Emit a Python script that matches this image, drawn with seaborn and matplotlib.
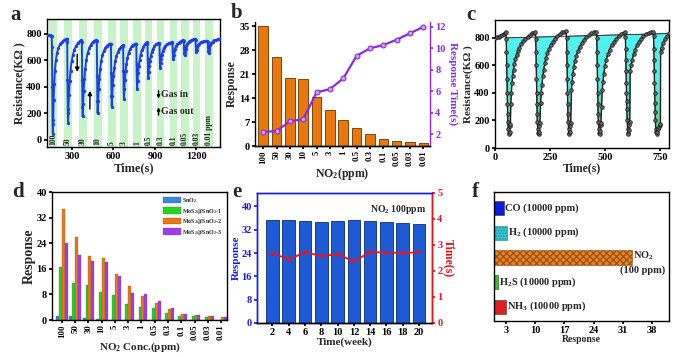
import numpy as np
import pandas as pd
import matplotlib
matplotlib.use("Agg")
import matplotlib.pyplot as plt
import seaborn as sns
from matplotlib.path import Path
from matplotlib.patches import PathPatch
from matplotlib.colors import LinearSegmentedColormap

# ---------------- data ----------------
# (a) dynamic response, resistance vs time
a_time = [122, 130, 140, 148, 154,
          156, 158, 160, 162, 165, 168, 172, 177, 184, 192, 202, 214, 228, 242, 256, 264,
          266, 268, 270, 272, 275, 279, 284, 290, 298, 307, 318, 330, 343, 356, 368,
          372, 374, 376, 378, 381, 385, 390, 396, 404, 413, 424, 436, 449, 463, 476,
          480, 482, 484, 486, 489, 493, 498, 504, 511, 520, 530, 541, 553, 566, 578,
          582, 584, 586, 588, 591, 595, 600, 606, 613, 622, 632, 643, 655, 666,
          670, 672, 674, 676, 679, 683, 688, 694, 701, 710, 720, 731, 743, 755, 763,
          765, 767, 769, 771, 774, 778, 783, 789, 796, 805, 815, 826, 836, 844,
          846, 848, 850, 852, 855, 859, 864, 870, 877, 886, 896, 907, 919, 930,
          932, 934, 936, 938, 941, 945, 950, 956, 964, 974, 986, 999, 1012, 1024,
          1026, 1028, 1030, 1032, 1035, 1039, 1044, 1051, 1060, 1071, 1083, 1096, 1106,
          1108, 1110, 1112, 1114, 1117, 1121, 1127, 1134, 1143, 1154, 1166, 1179, 1191,
          1193, 1195, 1197, 1199, 1202, 1206, 1212, 1220, 1230, 1242, 1256, 1270, 1279,
          1281, 1283, 1285, 1287, 1290, 1294, 1300, 1308, 1318, 1330, 1344, 1358, 1368]
a_res = [790, 788, 790, 785, 780,
         700, 400, 120, 45, 150, 300, 420, 520, 600, 650, 690, 718, 738, 750, 758, 762,
         740, 450, 200, 125, 230, 340, 440, 520, 590, 640, 680, 708, 728, 742, 750,
         740, 450, 250, 175, 270, 370, 460, 530, 600, 650, 688, 715, 735, 746, 752,
         745, 480, 290, 200, 290, 380, 460, 530, 590, 635, 668, 692, 708, 718, 725,
         720, 500, 330, 250, 330, 410, 480, 540, 590, 630, 660, 684, 700, 712,
         710, 520, 380, 305, 380, 450, 515, 570, 615, 655, 683, 703, 716, 722, 725,
         720, 570, 450, 380, 440, 500, 555, 600, 640, 675, 700, 718, 728, 735,
         725, 610, 520, 462, 510, 555, 595, 630, 660, 685, 705, 718, 726, 730,
         725, 640, 575, 537, 575, 610, 640, 665, 688, 705, 718, 727, 732, 735,
         730, 670, 630, 612, 640, 665, 685, 703, 718, 730, 740, 747, 750,
         745, 690, 655, 637, 662, 685, 705, 722, 736, 746, 753, 758, 760,
         750, 705, 680, 662, 680, 697, 712, 724, 733, 739, 743, 745, 745,
         740, 700, 672, 655, 675, 695, 713, 728, 740, 748, 754, 758, 760]
a_gas_in = [156, 266, 372, 480, 582, 670, 765, 846, 932, 1026, 1108, 1193, 1281]
a_conc = ["100", "50", "30", "10", "5", "3", "1", "0.5", "0.3", "0.1", "0.05", "0.03", "0.01 ppm"]

# (b) response and response time vs NO2 concentration
b_conc = ["100", "50", "30", "10", "5", "3", "1", "0.5", "0.3", "0.1", "0.05", "0.03", "0.01"]
b_response = [35.0, 26.0, 20.0, 19.5, 14.3, 10.5, 7.6, 5.4, 3.5, 2.0, 1.6, 1.3, 0.9]
b_resp_time = [2.2, 2.3, 3.2, 3.4, 5.9, 6.2, 7.2, 9.3, 10.0, 10.3, 10.8, 11.4, 12.0]

# (c) repeatability cycles
c_time = [0, 8, 16, 24, 32, 40, 46, 50,
          51, 52, 53, 54, 55, 56, 57, 58, 60, 62, 64, 66, 68, 70, 72, 74, 77, 80, 84, 88, 93, 98,
          104, 111, 119, 128, 138, 148, 158, 168, 176, 183,
          185, 186, 187, 188, 189, 190, 191, 192, 194, 196, 198, 200, 202, 204, 207, 210, 213, 217,
          221, 226, 232, 238, 245, 253, 262, 272, 283, 295, 306, 315, 322,
          325, 326, 327, 328, 329, 330, 331, 332, 334, 336, 338, 340, 342, 344, 347, 350, 354, 358,
          363, 369, 376, 384, 393, 403, 414, 426, 438, 450, 460,
          462, 463, 464, 465, 466, 467, 468, 469, 471, 473, 475, 477, 479, 481, 484, 487, 490, 494,
          499, 505, 512, 520, 529, 539, 550, 562, 574, 584, 590,
          592, 593, 594, 595, 596, 597, 598, 599, 600, 602, 604, 606, 608, 610, 612, 614, 618, 623,
          629, 636, 644, 653, 663, 674, 686, 698, 708, 716,
          720, 721, 722, 723, 724, 725, 726, 727, 728, 730, 732, 734, 737, 740, 744, 748, 751,
          752, 756, 762, 770, 780, 790]
c_res = [800, 805, 810, 815, 822, 830, 838, 840,
         790, 700, 600, 500, 400, 320, 250, 190, 140, 110, 100, 115, 160, 175, 320, 400, 470, 520,
         570, 610, 645, 675, 705, 730, 755, 775, 795, 810, 822, 832, 838, 842,
         790, 700, 600, 500, 400, 320, 250, 190, 140, 110, 100, 115, 160, 180, 330, 400, 460, 520,
         570, 615, 655, 690, 720, 748, 772, 795, 815, 830, 840, 845, 848,
         800, 700, 600, 500, 400, 320, 250, 190, 140, 110, 100, 115, 160, 180, 420, 480, 540, 590,
         630, 670, 705, 735, 762, 785, 805, 820, 832, 840, 845,
         800, 700, 600, 500, 400, 320, 250, 190, 140, 110, 105, 120, 165, 180, 300, 420, 480, 540,
         595, 640, 680, 715, 745, 772, 795, 815, 830, 838, 842,
         810, 720, 640, 560, 470, 400, 340, 280, 200, 140, 110, 105, 130, 170, 190, 560, 600, 640,
         680, 715, 745, 772, 795, 815, 830, 838, 842, 845,
         815, 720, 640, 560, 470, 400, 330, 260, 200, 140, 115, 105, 115, 135, 150, 165, 175,
         700, 730, 760, 790, 815, 832]
c_base_t = [50, 790]
c_base_r = [800, 832]

# (d) responses of four sensors
d_conc = ["100", "50", "30", "10", "5", "3", "1", "0.5", "0.3", "0.1", "0.05", "0.03", "0.01"]
d_sno2 = [1.3, 1.1, 0.7, 0.4, 0.1, 0.1, 0.1, 0.1, 0.1, 0.1, 0.1, 0.1, 0.1]
d_mos2_1 = [16.5, 11.5, 10.8, 8.7, 7.7, 5.0, 4.0, 3.7, 2.2, 1.3, 1.1, 1.0, 0.1]
d_mos2_2 = [34.8, 25.8, 20.0, 19.4, 14.3, 10.5, 7.5, 5.3, 3.5, 2.0, 1.6, 1.3, 1.0]
d_mos2_3 = [24.2, 20.4, 18.5, 18.0, 13.7, 8.5, 8.0, 5.8, 3.7, 1.9, 1.5, 1.3, 1.0]
d_names = ["SnO$_2$", "MoS$_2$@SnO$_2$-1", "MoS$_2$@SnO$_2$-2", "MoS$_2$@SnO$_2$-3"]

# (e) long-term stability
e_week = [2, 4, 6, 8, 10, 12, 14, 16, 18, 20]
e_response = [35.4, 35.3, 34.9, 34.6, 35.0, 35.2, 35.1, 34.5, 34.3, 33.9]
e_time = [2.69, 2.44, 2.72, 2.58, 2.64, 2.37, 2.73, 2.71, 2.69, 2.72]

# (f) selectivity
f_gas = ["CO", "H2", "NO2", "H2S", "NH3"]
f_response = [2.4, 3.2, 33.2, 1.0, 3.0]
f_labels = ["CO (10000 ppm)", "H$_2$ (10000 ppm)", "NO$_2$", "H$_2$S (10000 ppm)", "NH$_3$ (10000 ppm)"]

# ---------------- style ----------------
sns.set_theme(style="ticks")
plt.rcParams.update({
    "font.family": ["Liberation Serif", "DejaVu Serif"],
    "font.weight": "bold",
    "axes.labelweight": "bold",
    "mathtext.fontset": "custom",
    "mathtext.rm": "Liberation Serif:bold",
    "mathtext.it": "Liberation Serif:italic:bold",
    "mathtext.bf": "Liberation Serif:bold",
    "axes.linewidth": 1.0,
    "axes.edgecolor": "black",
    "xtick.color": "black",
    "ytick.color": "black",
    "xtick.major.size": 2.5,
    "ytick.major.size": 2.5,
    "xtick.major.pad": 1.2,
    "ytick.major.pad": 1.2,
    "axes.labelpad": 0.8,
})

W, H = 692, 357
fig = plt.figure(figsize=(W / 100, H / 100), dpi=100)


def rect(l, r, t, b):
    return [l / W, 1 - b / H, (r - l) / W, (b - t) / H]


TICK = 7.5
ROT = 6.3
LAB = 8.5

# ---------------- (a) ----------------
ax = fig.add_axes(rect(47, 220, 19, 147))
for T, lab in zip(a_gas_in, a_conc):
    ax.axvspan(T - 20, T + 36, color="#C8F2C8", lw=0, zorder=0)
    ax.text(T + 7, -40, lab, rotation=90, fontsize=5.5, ha="center", va="bottom", zorder=1)
sns.lineplot(x=a_time, y=a_res, ax=ax, color="#1F3FE6", lw=1.4, marker="o", markersize=2.4,
             markeredgewidth=0, estimator=None, sort=False, zorder=3)
ax.set_xlim(120, 1370)
ax.set_ylim(-55, 910)
ax.set_xticks([300, 600, 900, 1200])
ax.set_yticks([0, 200, 400, 600, 800])
ax.tick_params(labelsize=TICK)
ax.set_xlabel("Time(s)", fontsize=9)
ax.set_ylabel("Resistance(KΩ )", fontsize=8.5)
arw = dict(arrowstyle="-|>", color="black", lw=1.0, mutation_scale=6)
ax.annotate("", xy=(338, 490), xytext=(338, 665), arrowprops=arw)
ax.annotate("", xy=(430, 390), xytext=(430, 210), arrowprops=arw)
ax.annotate("", xy=(926, 290), xytext=(926, 390), arrowprops=dict(arw, mutation_scale=4))
ax.annotate("", xy=(926, 265), xytext=(926, 165), arrowprops=dict(arw, mutation_scale=4))
ax.text(945, 342, "Gas in", fontsize=7, va="center", ha="left")
ax.text(945, 212, "Gas out", fontsize=7, va="center", ha="left")

# ---------------- (b) ----------------
purple = "#8A2BE2"
ax = fig.add_axes(rect(255, 430, 22, 146))
sns.barplot(x=b_conc, y=b_response, ax=ax, color="#E8770E", edgecolor="#6B3100",
            linewidth=0.6, width=0.72, saturation=1)
ax.set_xlim(-0.62, 12.5)
ax.set_ylim(0, 36.3)
ax.set_yticks([0, 7, 14, 21, 28, 35])
ax.tick_params(axis="x", labelrotation=90, labelsize=ROT, pad=0.6)
ax.tick_params(axis="y", labelsize=TICK)
ax.set_xlabel("NO$_2$(ppm)", fontsize=LAB, labelpad=0)
ax.set_ylabel("Response", fontsize=LAB)
ax.spines["top"].set_visible(False)
ax.spines["right"].set_visible(False)
ax2 = ax.twinx()
sns.lineplot(x=np.arange(len(b_conc)), y=b_resp_time, ax=ax2, color=purple, lw=1.6,
             marker="o", markersize=3.5, markerfacecolor="#C8A2F0", markeredgecolor=purple,
             markeredgewidth=0.8)
ax2.set_ylim(0.9, 12.45)
ax2.set_yticks([2, 4, 6, 8, 10, 12])
ax2.spines["top"].set_visible(False)
ax2.spines["left"].set_visible(False)
ax2.spines["right"].set_color(purple)
ax2.tick_params(axis="y", colors=purple, labelsize=TICK)
ax2.set_ylabel("Response Time(s)", fontsize=8, color=purple, rotation=270, labelpad=9)

# ---------------- (c) ----------------
ax = fig.add_axes(rect(495, 669, 20, 148))
c_t = np.array(c_time, dtype=float)
c_r = np.array(c_res, dtype=float)
mask = c_t >= c_base_t[0]
base = np.interp(c_t[mask], c_base_t, c_base_r)
coll = ax.fill_between(c_t[mask], c_r[mask], base, where=c_r[mask] <= base + 1,
                       facecolor="none", edgecolor="#444444", lw=0.5, zorder=2)
paths = coll.get_paths()
comp = Path.make_compound_path(*paths)
clip = PathPatch(comp, transform=ax.transData, facecolor="none", edgecolor="none")
ax.add_patch(clip)
cmap = LinearSegmentedColormap.from_list("cg", ["#5CD070", "#55EDE0", "#4FF3F3"])
grad = np.linspace(0, 1, 256).reshape(-1, 1)
im = ax.imshow(grad, extent=[0, 790, 90, 840], origin="lower", aspect="auto", cmap=cmap, zorder=1)
im.set_clip_path(clip)
ax.plot(c_base_t, c_base_r, color="#333333", lw=0.6, zorder=2)
sns.lineplot(x=c_time, y=c_res, ax=ax, color="#222222", lw=1.0, marker="o", markersize=2.6,
             markerfacecolor="#666666", markeredgecolor="#111111", markeredgewidth=0.5,
             estimator=None, sort=False, zorder=3)
ax.set_xlim(0, 790)
ax.set_ylim(0, 930)
ax.set_xticks([0, 250, 500, 750])
ax.set_yticks([0, 200, 400, 600, 800])
ax.tick_params(labelsize=TICK)
ax.set_xlabel("Time(s)", fontsize=LAB, labelpad=0)
ax.set_ylabel("Resistance(KΩ )", fontsize=8)

# ---------------- (d) ----------------
ax = fig.add_axes(rect(52, 227, 192, 320))
d_df = pd.DataFrame({
    "conc": d_conc * 4,
    "resp": d_sno2 + d_mos2_1 + d_mos2_2 + d_mos2_3,
    "sample": [d_names[0]] * 13 + [d_names[1]] * 13 + [d_names[2]] * 13 + [d_names[3]] * 13,
})
sns.barplot(data=d_df, x="conc", y="resp", hue="sample", hue_order=d_names, ax=ax,
            palette=["#3A86D8", "#22D622", "#EE7711", "#A03BF0"], width=0.88, gap=0.0,
            saturation=1, edgecolor="#555555", linewidth=0.2)
ax.set_xlim(-0.75, 12.45)
ax.set_ylim(0, 40)
ax.set_yticks([0, 8, 16, 24, 32, 40])
ax.tick_params(axis="x", labelrotation=90, labelsize=ROT, pad=0.6)
ax.tick_params(axis="y", labelsize=TICK)
ax.set_xlabel("NO$_2$ Conc.(ppm)", fontsize=8, labelpad=0)
ax.set_ylabel("Response", fontsize=10)
leg = ax.legend(loc="upper right", fontsize=4.3, frameon=False, handlelength=3.0,
                handleheight=1.2, labelspacing=0.25, borderaxespad=0.3, handletextpad=0.3)

# ---------------- (e) ----------------
blue = "#1A1AE6"
red = "#E8141E"
ax = fig.add_axes(rect(257, 432, 193, 323))
sns.barplot(x=e_week, y=e_response, ax=ax, native_scale=True, color="#1E5AD6",
            edgecolor="#0A2A80", linewidth=0.6, width=0.78, saturation=1)
ax.set_xlim(0.1, 21.6)
ax.set_ylim(0, 44.6)
ax.set_xticks(e_week)
ax.set_yticks([0, 8, 16, 24, 32, 40])
ax.tick_params(axis="x", labelsize=TICK)
ax.tick_params(axis="y", labelsize=TICK, colors=blue)
ax.spines["left"].set_color(blue)
ax.spines["top"].set_color(blue)
ax.set_xlabel("Time(week)", fontsize=8, labelpad=0)
ax.set_ylabel("Response", fontsize=8, color=blue)
ax.text(0.97, 0.92, "NO$_2$ 100ppm", transform=ax.transAxes, fontsize=7, ha="right", va="top")
ax2 = ax.twinx()
sns.lineplot(x=e_week, y=e_time, ax=ax2, color=red, lw=1.3, marker="*", markersize=5,
             markeredgewidth=0)
ax2.set_ylim(0, 5)
ax2.set_yticks([0, 1, 2, 3, 4, 5])
ax2.spines["right"].set_color(red)
ax2.spines["left"].set_color(blue)
ax2.spines["top"].set_color(blue)
ax2.tick_params(axis="y", colors=red, labelsize=TICK)
ax2.set_ylabel("Time(s)", fontsize=8.5, color=red, rotation=270, labelpad=9)

# ---------------- (f) ----------------
ax = fig.add_axes(rect(494, 669, 192, 321))
f_colors = ["#0A1ADF", "#3BD0D8", "#E88530", "#33C233", "#E02020"]
sns.barplot(x=f_response, y=f_gas, ax=ax, orient="h", palette=f_colors, hue=f_gas,
            legend=False, width=0.58, saturation=1, edgecolor="#333333", linewidth=0.4)
hatches = ["", "......", "xxxxx", "", ""]
for p, h in zip(ax.patches, hatches):
    if h:
        p.set_hatch(h)
        p.set_edgecolor("#1C8A90" if h.startswith(".") else "#A0520F")
for i, (v, lab) in enumerate(zip(f_response, f_labels)):
    if i == 2:
        ax.text(v + 0.2, i - 0.07, lab, fontsize=7.5, ha="left", va="center")
        ax.text(41.3, i + 0.54, "(100 ppm)", fontsize=7.5, ha="right", va="center")
    else:
        ax.text(v + 0.2, i, lab, fontsize=7.5, ha="left", va="center")
ax.set_xlim(0, 42.2)
ax.set_ylim(4.58, -0.65)
ax.set_xticks([3, 10, 17, 24, 31, 38])
ax.set_yticks([])
ax.set_ylabel("")
ax.tick_params(axis="x", labelsize=TICK)
ax.set_xlabel("Response", fontsize=7, labelpad=0)

# ---------------- panel letters ----------------
for x, y, s in [(10, 5, "a"), (231, 3, "b"), (466, 5, "c"),
                (12, 182, "d"), (232, 182, "e"), (472, 182, "f")]:
    fig.text(x / W, 1 - y / H, s, fontsize=15, fontweight="bold", ha="left", va="top")

fig.savefig("out.png", dpi=100)
